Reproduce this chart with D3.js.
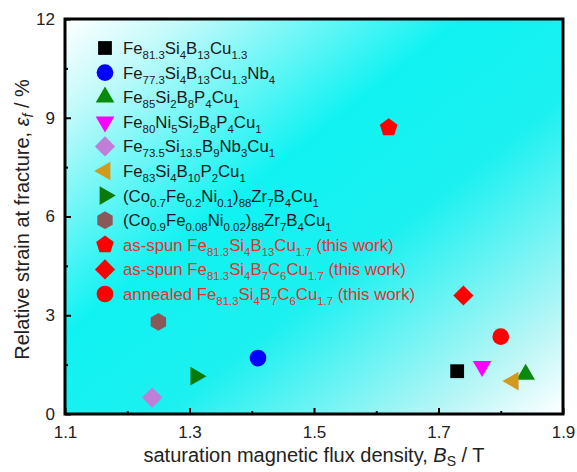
<!DOCTYPE html>
<html>
<head>
<meta charset="utf-8">
<script src="https://cdn.jsdelivr.net/npm/d3@7"></script>
<style>
  body { margin: 0; background: #fff; }
  text { font-family: "Liberation Sans", Arial, sans-serif; }
</style>
</head>
<body>
<div id="chart"></div>
<script>
// alloys, in legend order
const alloys = [
    'Fe_{81.3}Si_{4}B_{13}Cu_{1.3}',
    'Fe_{77.3}Si_{4}B_{13}Cu_{1.3}Nb_{4}',
    'Fe_{85}Si_{2}B_{8}P_{4}Cu_{1}',
    'Fe_{80}Ni_{5}Si_{2}B_{8}P_{4}Cu_{1}',
    'Fe_{73.5}Si_{13.5}B_{9}Nb_{3}Cu_{1}',
    'Fe_{83}Si_{4}B_{10}P_{2}Cu_{1}',
    '(Co_{0.7}Fe_{0.2}Ni_{0.1})_{88}Zr_{7}B_{4}Cu_{1}',
    '(Co_{0.9}Fe_{0.08}Ni_{0.02})_{88}Zr_{7}B_{4}Cu_{1}',
    'as-spun Fe_{81.3}Si_{4}B_{13}Cu_{1.7} (this work)',
    'as-spun Fe_{81.3}Si_{4}B_{7}C_{6}Cu_{1.7} (this work)',
    'annealed Fe_{81.3}Si_{4}B_{7}C_{6}Cu_{1.7} (this work)'
];
// saturation flux density Bs (T)
const bs = [1.73, 1.41, 1.84, 1.77, 1.24, 1.82, 1.31, 1.25, 1.62, 1.74, 1.80];
// relative strain at fracture (%)
const strain = [1.3, 1.7, 1.2, 1.45, 0.5, 1.0, 1.15, 2.8, 8.7, 3.6, 2.35];

const xTicks = [1.1, 1.3, 1.5, 1.7, 1.9];
const xMinor = [1.2, 1.4, 1.6, 1.8];
const yTicks = [0, 3, 6, 9, 12];
const yMinor = [1.5, 4.5, 7.5, 10.5];

// marker styles
const colors = ['#000000', '#0000ff', '#0a8a0a', '#ff00ff', '#c07ed8', '#d29a1c',
                '#0a7a0a', '#8a5858', '#ff0000', '#ff0000', '#ff0000'];
const shapes = ['square', 'circle', 'triangle', 'triangleDown', 'diamond', 'triangleLeft',
                'triangleRight', 'hexagon', 'pentagon', 'diamond', 'circle'];

const W = 577, H = 472;
const margin = {top: 19, right: 14, bottom: 58, left: 65};
const w = W - margin.left - margin.right;
const h = H - margin.top - margin.bottom;

const svg = d3.select('#chart').append('svg')
    .attr('width', W)
    .attr('height', H);

const defs = svg.append('defs');
const grad = defs.append('linearGradient')
    .attr('id', 'bg')
    .attr('x1', 0).attr('y1', 0).attr('x2', 1).attr('y2', 1);
[[0, '#ffffff'], [0.12, '#c4fafa'], [0.4, '#10f2f2'], [0.6, '#1cf0f0'], [0.88, '#bcf6f6'], [1, '#ffffff']]
    .forEach(s => grad.append('stop').attr('offset', s[0]).attr('stop-color', s[1]));

const g = svg.append('g')
    .attr('transform', `translate(${margin.left},${margin.top})`);

const x = d3.scaleLinear().domain([1.1, 1.9]).range([0, w]);
const y = d3.scaleLinear().domain([0, 12]).range([h, 0]);

g.append('rect')
    .attr('width', w)
    .attr('height', h)
    .attr('fill', 'url(#bg)');

// regular polygon symbol, pointy top
function polygon(n) {
    return {
        draw(ctx, size) {
            const r = Math.sqrt(2 * size / (n * Math.sin(2 * Math.PI / n)));
            for (let i = 0; i < n; i++) {
                const a = -Math.PI / 2 + i * 2 * Math.PI / n;
                const px = r * Math.cos(a), py = r * Math.sin(a);
                if (i === 0) ctx.moveTo(px, py); else ctx.lineTo(px, py);
            }
            ctx.closePath();
        }
    };
}

const shapeDefs = {
    square: {type: d3.symbolSquare, size: 190, rot: 0},
    circle: {type: d3.symbolCircle, size: 220, rot: 0},
    triangle: {type: d3.symbolTriangle, size: 150, rot: 0},
    triangleDown: {type: d3.symbolTriangle, size: 150, rot: 180},
    triangleLeft: {type: d3.symbolTriangle, size: 150, rot: -90},
    triangleRight: {type: d3.symbolTriangle, size: 150, rot: 90},
    diamond: {type: d3.symbolSquare, size: 205, rot: 45},
    hexagon: {type: polygon(6), size: 205, rot: 0},
    pentagon: {type: polygon(5), size: 205, rot: 0}
};

function marker(sel, i) {
    const s = shapeDefs[shapes[i]];
    sel.attr('d', d3.symbol().type(s.type).size(s.size)())
        .attr('fill', colors[i]);
    return s.rot;
}

// axes
const xAxis = g.append('g')
    .attr('transform', `translate(0,${h})`)
    .call(d3.axisBottom(x).tickValues(xTicks).tickSize(-6).tickPadding(12).tickFormat(d3.format('.1f')));
const xAxisMinor = g.append('g')
    .attr('transform', `translate(0,${h})`)
    .call(d3.axisBottom(x).tickValues(xMinor).tickSize(-3).tickFormat(''));
const yAxis = g.append('g')
    .call(d3.axisLeft(y).tickValues(yTicks).tickSize(-6).tickPadding(10));
const yAxisMinor = g.append('g')
    .call(d3.axisLeft(y).tickValues(yMinor).tickSize(-3).tickFormat(''));

[xAxis, xAxisMinor, yAxis, yAxisMinor].forEach(a => {
    a.select('.domain').remove();
    a.selectAll('.tick line').attr('stroke', '#000').attr('stroke-width', 2);
    a.selectAll('.tick text')
        .attr('font-size', 17)
        .attr('fill', '#222')
        .attr('font-family', '"Liberation Sans", Arial, sans-serif');
});

g.append('rect')
    .attr('width', w)
    .attr('height', h)
    .attr('fill', 'none')
    .attr('stroke', '#000')
    .attr('stroke-width', 3);

// data points
g.selectAll('.pt')
    .data(d3.range(alloys.length))
    .enter().append('path')
    .attr('class', 'pt')
    .each(function (i) {
        const rot = marker(d3.select(this), i);
        d3.select(this).attr('transform', `translate(${x(bs[i])},${y(strain[i])}) rotate(${rot})`);
    });

// text with _{sub} markup
function richText(sel, str, size) {
    const parts = str.split(/(_\{[^}]*\})/).filter(p => p.length);
    let shifted = false;
    parts.forEach(p => {
        const m = p.match(/^_\{([^}]*)\}$/);
        if (m) {
            sel.append('tspan')
                .attr('font-size', size * 0.68)
                .attr('dy', shifted ? 0 : size * 0.3)
                .text(m[1]);
            shifted = true;
        } else {
            sel.append('tspan')
                .attr('font-size', size)
                .attr('dy', shifted ? -size * 0.3 : 0)
                .text(p);
            shifted = false;
        }
    });
}

// legend
const legend = g.append('g').attr('transform', 'translate(40,29)');
const rowH = 24.6;
alloys.forEach((name, i) => {
    const row = legend.append('g').attr('transform', `translate(0,${i * rowH})`);
    const sym = row.append('path');
    const rot = marker(sym, i);
    sym.attr('transform', `rotate(${rot})`);
    const t = row.append('text')
        .attr('x', 18)
        .attr('y', 6)
        .attr('fill', i >= 8 ? '#e4302e' : '#1a1a1a');
    richText(t, name, 16.8);
});

// axis titles
const xt = svg.append('text')
    .attr('x', margin.left + w / 2)
    .attr('y', 462)
    .attr('text-anchor', 'middle')
    .attr('font-size', 20)
    .attr('fill', '#222');
xt.append('tspan').text('saturation magnetic flux density, ');
xt.append('tspan').attr('font-style', 'italic').text('B');
xt.append('tspan').attr('font-size', 14).attr('dy', 4).text('S');
xt.append('tspan').attr('dy', -4).text(' / T');

const yt = svg.append('text')
    .attr('transform', `translate(29,${margin.top + h / 2 + 3}) rotate(-90)`)
    .attr('text-anchor', 'middle')
    .attr('font-size', 20)
    .attr('fill', '#222');
yt.append('tspan').text('Relative strain at fracture, ');
yt.append('tspan').attr('font-style', 'italic').text('ε');
yt.append('tspan').attr('font-style', 'italic').attr('font-size', 14).attr('dy', 4).text('f');
yt.append('tspan').attr('dy', -4).text(' / %');
</script>
</body>
</html>
